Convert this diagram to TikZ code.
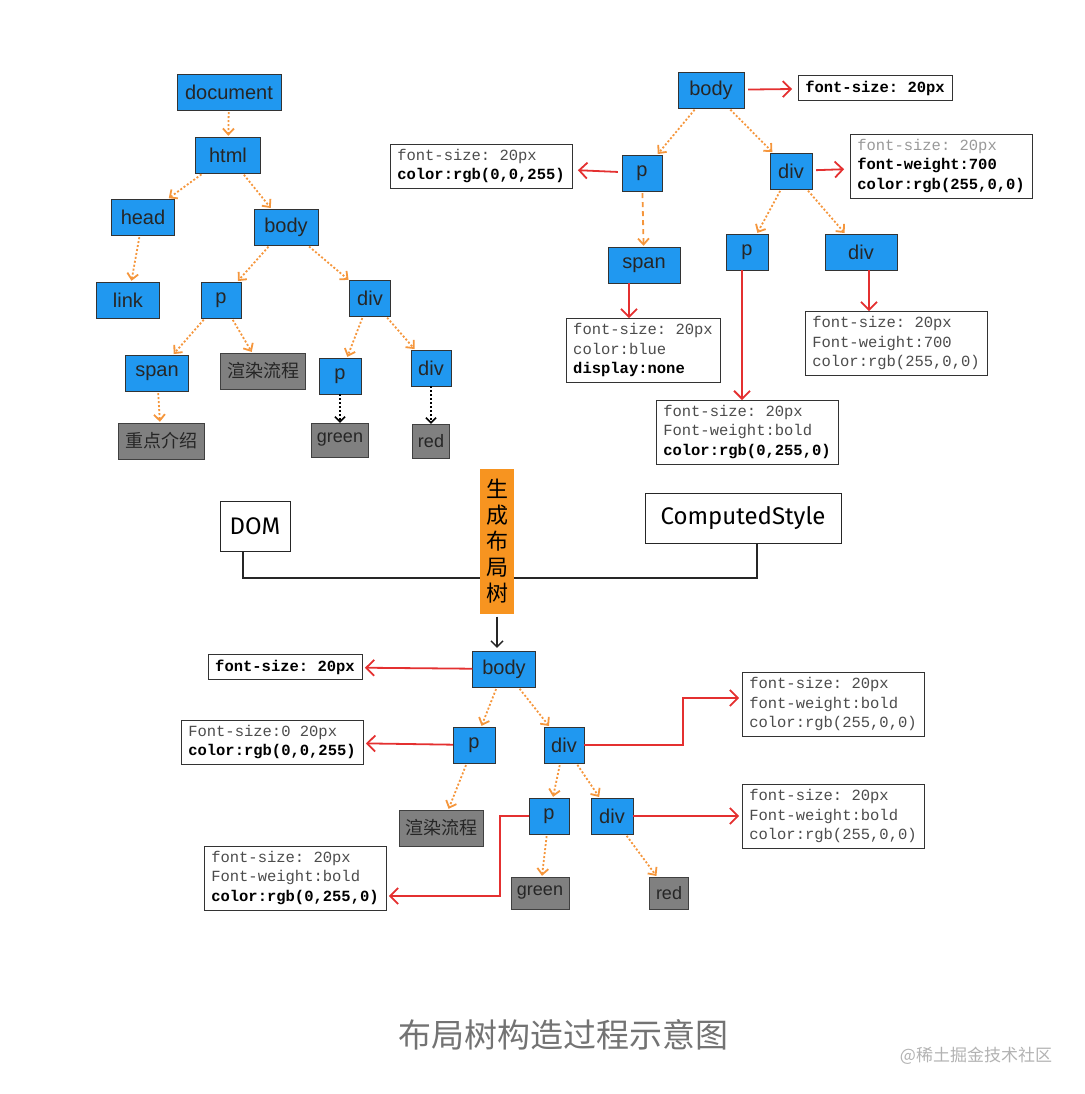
\documentclass[tikz,border=0pt]{standalone}
\usepackage{fontspec}
\setmainfont{Liberation Sans}
\setmonofont{Liberation Mono}
\newfontfamily\cjk{Noto Sans CJK SC}
\newfontfamily\handfont{Fira Sans}
\usetikzlibrary{positioning, arrows.meta}
\definecolor{elemblue}{RGB}{32,152,240}
\definecolor{leafgray}{RGB}{128,128,128}
\definecolor{treeorange}{RGB}{245,150,60}
\definecolor{layoutorange}{RGB}{247,148,32}
\definecolor{stylered}{RGB}{228,48,48}
\tikzset{
  elem/.style={draw=black!80, fill=elemblue, text=black!85, minimum height=36pt,
    inner sep=0pt, font=\fontsize{20}{24}\selectfont},
  leaf/.style={draw=black!75, fill=leafgray, text=black!85, minimum height=36pt,
    inner sep=0pt, font=\cjk\fontsize{18}{22}\selectfont},
  css/.style={draw=black!80, fill=white, text=black!70, align=left, inner xsep=7pt,
    inner ysep=5pt, font=\ttfamily\fontsize{15.5}{19.5}\selectfont},
  hand/.style={draw=black!85, fill=white, inner xsep=7pt, minimum height=50pt,
    font=\handfont\fontsize{24}{28}\selectfont},
  child/.style={-{Straight Barb[length=6pt,width=11pt]}, treeorange, line width=1.8pt,
    dash pattern=on 2pt off 2pt, shorten <=2pt, shorten >=1pt},
  leafdot/.style={-{Straight Barb[length=5pt,width=10pt]}, black, line width=1.6pt,
    dash pattern=on 2pt off 2pt},
  styled/.style={-{Straight Barb[length=8pt,width=16pt]}, stylered, line width=1.8pt},
}
\newcommand{\bx}[1]{\textbf{\color{black}#1}}

\begin{document}
\begin{tikzpicture}[x=1pt, y=-1pt]
\useasboundingbox (0,0) rectangle (1084,1094);

% DOM tree
\node[elem, minimum width=104pt] (d-document) at (229,92) {document};
\node[elem, minimum width=65pt] (d-html) at (228,155) {html};
\node[elem, minimum width=63pt] (d-head) at (143,217) {head};
\node[elem, minimum width=64pt] (d-body) at (286,227) {body};
\node[elem, minimum width=63pt] (d-link) at (128,300) {link};
\node[elem, minimum width=40pt] (d-p) at (221,300) {p};
\node[elem, minimum width=41pt] (d-div) at (370,298) {div};
\node[elem, minimum width=63pt] (d-span) at (157,373) {span};
\node[leaf, minimum width=85pt] (d-render) at (263,371) {渲染流程};
\node[elem, minimum width=42pt] (d-p2) at (340,376) {p};
\node[elem, minimum width=40pt] (d-div2) at (431,368) {div};
\node[leaf, minimum width=86pt] (d-intro) at (161,441) {重点介绍};
\node[leaf, minimum width=57pt, minimum height=34pt, font=\fontsize{18}{22}\selectfont] (d-green) at (340,440) {green};
\node[leaf, minimum width=37pt, minimum height=34pt, font=\fontsize{18}{22}\selectfont] (d-red) at (431,441) {red};

\draw[child] (d-document) edge (d-html)
      (d-html) edge (d-head)
      (d-html) edge (d-body)
      (d-head) edge (d-link)
      (d-body) edge (d-p)
      (d-body) edge (d-div)
      (d-p) edge (d-span)
      (d-p) edge (d-render)
      (d-div) edge (d-p2)
      (d-div) edge (d-div2)
      (d-span) edge (d-intro);
\draw[leafdot] (d-p2) edge (d-green)
      (d-div2) edge (d-red);

% style tree
\node[elem, minimum width=66pt] (s-body) at (711,90) {body};
\node[elem, minimum width=40pt] (s-p) at (642,173) {p};
\node[elem, minimum width=42pt] (s-div) at (791,171) {div};
\node[elem, minimum width=72pt] (s-span) at (644,265) {span};
\node[elem, minimum width=42pt] (s-p2) at (747,252) {p};
\node[elem, minimum width=72pt] (s-div2) at (861,252) {div};

\node[css] (s-bodycss) at (875,88) {\bx{font-size: 20px}};
\node[css] (s-pcss) at (481,166) {font-size: 20px\\\bx{color:rgb(0,0,255)}};
\node[css] (s-divcss) at (941,166) {{\color{black!40}font-size: 20px}\\\bx{font-weight:700}\\\bx{color:rgb(255,0,0)}};
\node[css] (s-spancss) at (643,350) {font-size: 20px\\color:blue\\\bx{display:none}};
\node[css] (s-div2css) at (896,343) {font-size: 20px\\Font-weight:700\\color:rgb(255,0,0)};
\node[css] (s-p2css) at (747,432) {font-size: 20px\\Font-weight:bold\\\bx{color:rgb(0,255,0)}};

\draw[child] (s-body) edge (s-p)
      (s-body) edge (s-div)
      (s-div) edge (s-p2)
      (s-div) edge (s-div2);
\draw[child, dash pattern=on 5pt off 4pt] (s-p) -- (s-span);
\draw[styled, shorten <=4pt, shorten >=6pt] (s-body) edge (s-bodycss)
      (s-p) edge (s-pcss)
      (s-div) edge (s-divcss);
\draw[styled] ([xshift=-15pt]s-span.south) -- ([xshift=-15pt]s-span.south |- s-spancss.north);
\draw[styled] ([xshift=-5pt]s-p2.south) -- ([xshift=-5pt]s-p2.south |- s-p2css.north);
\draw[styled] ([xshift=8pt]s-div2.south) -- ([xshift=8pt]s-div2.south |- s-div2css.north);

% merge into layout
\node[hand, minimum width=70pt] (dom) at (255,526) {DOM};
\node[hand, minimum width=196pt] (cstyle) at (743,518) {ComputedStyle};
\coordinate (join) at (497,578);
\draw[black!85, line width=1.6pt] ([xshift=-12pt]dom.south) |- (join)
      -| ([xshift=14pt]cstyle.south);
\node[fill=layoutorange, minimum width=34pt, minimum height=145pt, inner sep=0pt,
  align=center, font=\cjk\fontsize{22}{26}\selectfont] (build) at (497,541)
  {生\\成\\布\\局\\树};

% layout tree
\node[elem, minimum width=63pt] (l-body) at (504,669) {body};
\node[elem, minimum width=42pt] (l-p) at (474,745) {p};
\node[elem, minimum width=40pt] (l-div) at (564,745) {div};
\node[leaf, minimum width=84pt] (l-render) at (441,828) {渲染流程};
\node[elem, minimum width=40pt] (l-p2) at (549,816) {p};
\node[elem, minimum width=42pt] (l-div2) at (612,816) {div};
\node[leaf, minimum width=58pt, minimum height=32pt, font=\fontsize{18}{22}\selectfont] (l-green) at (540,893) {green};
\node[leaf, minimum width=39pt, minimum height=32pt, font=\fontsize{18}{22}\selectfont] (l-red) at (669,893) {red};

\node[css] (l-bodycss) at (285,667) {\bx{font-size: 20px}};
\node[css] (l-pcss) at (272,742) {Font-size:0 20px\\\bx{color:rgb(0,0,255)}};
\node[css] (l-divcss) at (833,704) {font-size: 20px\\font-weight:bold\\color:rgb(255,0,0)};
\node[css] (l-div2css) at (833,816) {font-size: 20px\\Font-weight:bold\\color:rgb(255,0,0)};
\node[css] (l-p2css) at (295,878) {font-size: 20px\\Font-weight:bold\\\bx{color:rgb(0,255,0)}};

\draw[-{Straight Barb[length=6pt,width=12pt]}, black!85, line width=1.4pt, shorten <=3pt, shorten >=3pt]
  (build.south) -- (build.south |- l-body.north);
\draw[child] (l-body) edge (l-p)
      (l-body) edge (l-div)
      (l-p) edge (l-render)
      (l-div) edge (l-p2)
      (l-div) edge (l-div2)
      (l-p2) edge (l-green)
      (l-div2) edge (l-red);
\draw[styled, shorten >=3pt] (l-body) edge (l-bodycss)
      (l-p) edge (l-pcss)
      (l-div2) edge (l-div2css);
\draw[styled, shorten >=3pt] (l-div.east) -- ++(99,0) |- ([yshift=6pt]l-divcss.west);
\draw[styled, shorten >=3pt] (l-p2.west) -- ++(-29,0) |- ([yshift=-18pt]l-p2css.east);

% caption
\node[text=black!55, font=\cjk\fontsize{33}{38}\selectfont] (caption) at (563,1035) {布局树构造过程示意图};
\node[text=black!30, font=\cjk\fontsize{17}{20}\selectfont] (mark) at (976,1056) {@稀土掘金技术社区};
\end{tikzpicture}
\end{document}
